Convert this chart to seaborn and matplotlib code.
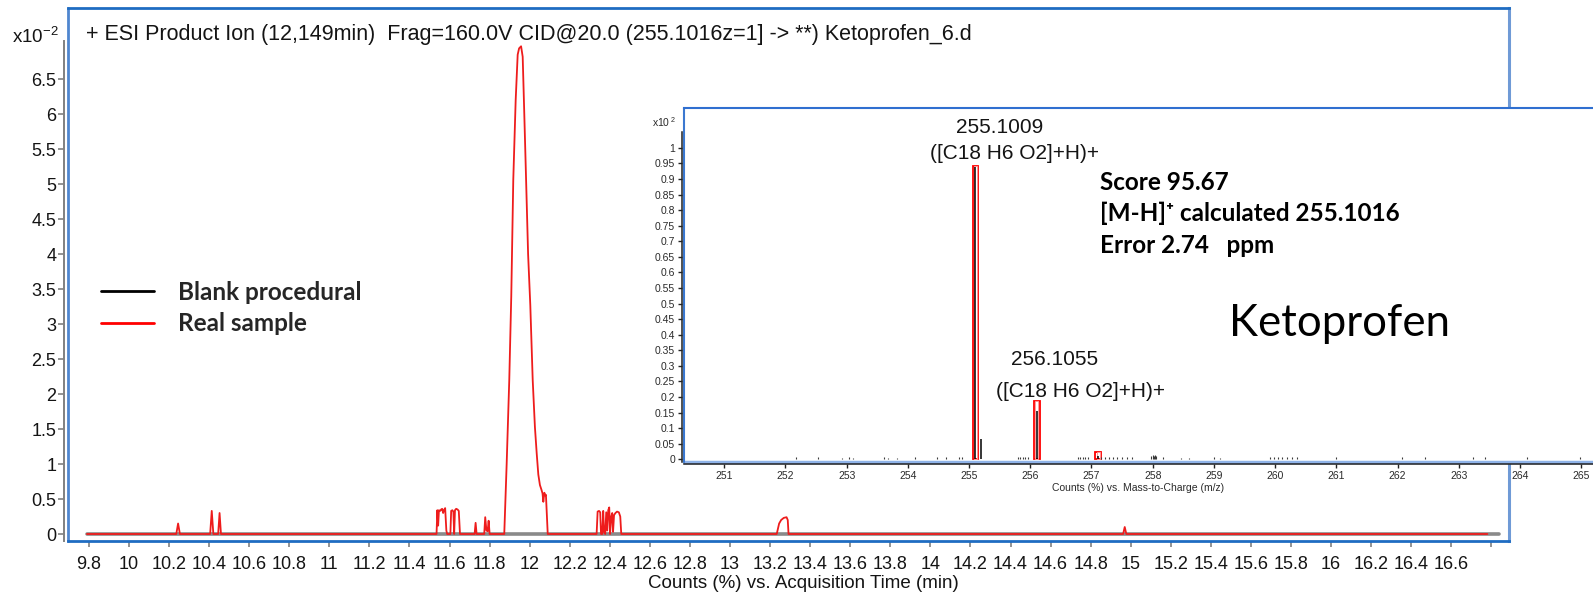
import matplotlib
matplotlib.use("Agg")
import numpy as np
import pandas as pd
import seaborn as sns
import matplotlib.pyplot as plt
from matplotlib.patches import Rectangle
from matplotlib.lines import Line2D
from matplotlib.font_manager import FontProperties

# ---------------- chromatogram: counts (x10^-2) vs. acquisition time (min) ----------------
blank_time = [9.79, 16.84]
blank_counts = [0.0, 0.0]

sample_time = [
    9.79, 10.236, 10.245, 10.254, 10.405, 10.413, 10.421, 10.445, 10.452, 10.459,
    11.535, 11.539, 11.543, 11.547, 11.553, 11.558, 11.563, 11.568, 11.572, 11.578, 11.584, 11.588,
    11.604, 11.608, 11.614, 11.619, 11.623, 11.627, 11.633, 11.640, 11.646, 11.652,
    11.725, 11.730, 11.735, 11.773, 11.778, 11.784, 11.790, 11.795, 11.800,
    11.873, 11.885, 11.898, 11.908, 11.918, 11.930, 11.940, 11.947, 11.957, 11.965, 11.973,
    11.982, 11.992, 12.003, 12.015, 12.026, 12.035, 12.043, 12.051, 12.059, 12.064, 12.068,
    12.073, 12.078, 12.081, 12.090,
    12.334, 12.339, 12.346, 12.352, 12.356, 12.362, 12.367, 12.371, 12.377, 12.382, 12.387,
    12.392, 12.397, 12.401, 12.407, 12.412, 12.416, 12.421, 12.428, 12.436, 12.445, 12.452, 12.457,
    13.233, 13.245, 13.255, 13.268, 13.282, 13.288, 13.292,
    14.962, 14.970, 14.978,
    16.78,
]
sample_counts = [
    0, 0, 0.15, 0, 0, 0.33, 0, 0, 0.30, 0,
    0, 0.34, 0.12, 0.34, 0.33, 0.35, 0.36, 0.30, 0.34, 0.37, 0.05, 0,
    0, 0.33, 0.34, 0.32, 0, 0.34, 0.36, 0.35, 0.33, 0,
    0, 0.16, 0, 0, 0.24, 0.05, 0.04, 0.19, 0,
    0, 1.0, 2.2, 3.4, 5.06, 6.2, 6.85, 6.94, 6.97, 6.82, 6.0,
    5.06, 4.0, 3.27, 2.2, 1.53, 1.15, 0.85, 0.70, 0.63, 0.58, 0.46,
    0.59, 0.55, 0.56, 0,
    0, 0.32, 0.33, 0.31, 0, 0, 0.33, 0.03, 0, 0.31, 0.05,
    0.34, 0.38, 0, 0.25, 0.30, 0.03, 0.27, 0.30, 0.32, 0.31, 0.25, 0,
    0, 0.15, 0.20, 0.23, 0.24, 0.20, 0,
    0, 0.10, 0,
    0,
]

time_ticks = np.round(np.arange(9.8, 16.81, 0.2), 1)
count_ticks = np.arange(0, 6.51, 0.5)
series_names = ["Blank procedural", "Real sample"]
title_text = "+ ESI Product Ion (12,149min)  Frag=160.0V CID@20.0 (255.1016z=1] -> **) Ketoprofen_6.d"

# ---------------- product-ion spectrum: counts (x10^2) vs. m/z ----------------
ion_mz = [255.1009, 256.1055]
ion_counts = [0.94, 0.155]
ion_labels = ["255.1009", "256.1055"]
ion_formula = "([C18 H6 O2]+H)+"
pattern_mz = [255.1009, 256.1055, 257.108]
pattern_counts = [0.943, 0.187, 0.022]
minor_mz = [255.20, 257.10]
minor_counts = [0.065, 0.012]
noise_mz = [252.17, 252.53, 252.93, 253.04, 253.10, 253.61, 253.68, 253.82, 254.12, 254.47,
            254.62, 254.84, 254.88, 255.80, 255.84, 255.88, 255.92, 255.96, 256.78, 256.82,
            256.86, 256.90, 256.94, 257.16, 257.22, 257.28, 257.35, 257.42, 257.50, 257.58,
            257.66, 257.98, 258.00, 258.02, 258.04, 258.06, 258.17, 258.46, 258.60, 259.00,
            259.10, 259.92, 259.98, 260.05, 260.12, 260.20, 260.28, 260.36, 261.00, 262.07,
            262.45, 263.24, 263.43, 264.11, 264.98]
noise_counts = [0.006, 0.006, 0.005, 0.006, 0.005, 0.006, 0.005, 0.004, 0.006, 0.006,
                0.006, 0.007, 0.007, 0.007, 0.006, 0.007, 0.006, 0.008, 0.006, 0.007,
                0.006, 0.007, 0.006, 0.007, 0.006, 0.007, 0.006, 0.007, 0.006, 0.006,
                0.006, 0.012, 0.013, 0.012, 0.013, 0.012, 0.006, 0.005, 0.005, 0.006,
                0.005, 0.006, 0.006, 0.006, 0.006, 0.006, 0.006, 0.006, 0.007, 0.006,
                0.006, 0.006, 0.006, 0.006, 0.006]
mz_ticks = np.arange(251, 266)
mz_count_ticks = np.round(np.arange(0, 1.001, 0.05), 2)
score_lines = ["Score 95.67", "[M-H]\u207a calculated 255.1016", "Error 2.74   ppm"]
compound = "Ketoprofen"

# ---------------- style ----------------
sns.set_theme(style="white")
plt.rcParams["font.family"] = ["Liberation Sans", "DejaVu Sans"]
plt.rcParams["mathtext.fontset"] = "custom"
plt.rcParams["mathtext.rm"] = "Liberation Sans"
plt.rcParams["mathtext.it"] = "Liberation Sans:italic"
plt.rcParams["mathtext.bf"] = "Liberation Sans:bold"

FRAME_BLUE = "#1f6cc2"
FRAME_BLUE_LIGHT = "#6f9ad6"
TEXT = "#141414"

W, H = 1593, 593
fig = plt.figure(figsize=(W / 100, H / 100), dpi=100)
fig.patch.set_facecolor("white")


def px_box(left, top, right, bottom):
    return [left / W, 1 - bottom / H, (right - left) / W, (bottom - top) / H]


# ---------------- chromatogram ----------------
ax = fig.add_axes(px_box(68, 8, 1509, 541))
sns.lineplot(x=blank_time, y=blank_counts, color="#8a8a8a", lw=2.6,
             estimator=None, sort=False, ax=ax)
sns.lineplot(x=sample_time, y=sample_counts, color="#ee1c1c", lw=1.3,
             estimator=None, sort=False, ax=ax)
ax.set_xlim(9.6955, 16.888)
ax.set_ylim(-0.1, 7.517)

ax.set_xticks(time_ticks)
ax.set_xticklabels([f"{t:g}" if t < 16.7 else "" for t in time_ticks])
ax.set_yticks(count_ticks)
ax.set_yticklabels([f"{v:g}" for v in count_ticks])
ax.tick_params(axis="x", bottom=True, direction="out", length=4.5, width=1.2,
               color="#808080", pad=6, labelsize=13, labelcolor=TEXT)
ax.tick_params(axis="y", left=True, direction="out", length=4.5, width=1.2,
               color="#808080", pad=1, labelsize=13, labelcolor=TEXT)

for side in ["top", "bottom"]:
    ax.spines[side].set_color(FRAME_BLUE)
    ax.spines[side].set_linewidth(2)
ax.spines["right"].set_color(FRAME_BLUE_LIGHT)
ax.spines["right"].set_linewidth(2.2)
ax.spines["left"].set_color("#808080")
ax.spines["left"].set_linewidth(1.4)
ax.spines["left"].set_position(("outward", 3))
ax.spines["left"].set_bounds(-0.1, 7.05)
ax.plot([0, 0], [0, 1], transform=ax.transAxes, color="#4f86cf", lw=2, clip_on=False)

ax.set_xlabel("Counts (%) vs. Acquisition Time (min)", fontsize=13.5, color=TEXT)
ax.xaxis.set_label_coords((803 - 68) / (1509 - 68), (541 - 583.5) / (541 - 8))
ax.xaxis.label.set_va("center")
ax.set_ylabel("")

legend_font = FontProperties(family=["Lato", "DejaVu Sans"], weight="bold", size=17.5)
handles = [Line2D([], [], color="black", lw=2), Line2D([], [], color="red", lw=2)]
ax.legend(handles, series_names, loc="upper left",
          bbox_to_anchor=(101 / W, 1 - 281 / H), bbox_transform=fig.transFigure,
          frameon=False, borderpad=0, borderaxespad=0, handlelength=2.2,
          handletextpad=0.95, labelspacing=0.34, prop=legend_font)

fig.text(86 / W, 1 - 34.5 / H, title_text, fontsize=15.5, color=TEXT, va="center", ha="left")
fig.text(12 / W, 1 - 37 / H, r"x10$^{-2}$", fontsize=13.5, color=TEXT, va="center", ha="left")

# ---------------- spectrum inset ----------------
ax2 = fig.add_axes(px_box(684, 108, 1593, 462))
ax2.set_zorder(5)
ax2.set_facecolor("white")
ax2.set_xlim(250.342, 265.194)
ax2.set_ylim(-0.0087, 1.128)

ax2.vlines(noise_mz, 0, noise_counts, color="#3a3a3a", lw=0.8)
for mz, h in zip(pattern_mz, pattern_counts):
    ax2.add_patch(Rectangle((mz - 0.045, 0), 0.09, h, fill=False,
                            edgecolor="red", lw=1.3))
    ax2.add_patch(Rectangle((mz - 0.025, 0), 0.05, h, fill=False,
                            edgecolor="#ff9a9a", lw=0.7))
ax2.vlines(ion_mz, 0, ion_counts, color="black", lw=1.1)
ax2.vlines(minor_mz, 0, minor_counts, color="black", lw=1.1)

px_pt = 0.72
label_offsets = [(24, 38), (18, 42)]
formula_offsets = [(39, 12), (44, 10)]
for mz, h, lab, (dx, dy), (fx_, fy_) in zip(pattern_mz, pattern_counts, ion_labels,
                                               label_offsets, formula_offsets):
    ax2.annotate(lab, xy=(mz, h), xytext=(dx * px_pt, dy * px_pt), textcoords="offset points",
                 ha="center", va="center", fontsize=15, color=TEXT)
    ax2.annotate(ion_formula, xy=(mz, h), xytext=(fx_ * px_pt, fy_ * px_pt),
                 textcoords="offset points", ha="center", va="center", fontsize=15, color=TEXT)

score_font = FontProperties(family=["Lato", "DejaVu Sans"], weight="bold", size=17.5)
for i, line in enumerate(score_lines):
    ypx = 182 + i * 31.6
    ax2.text((1100 - 684) / (1593 - 684), (462 - ypx) / (462 - 108), line,
             transform=ax2.transAxes, fontproperties=score_font, color="black",
             ha="left", va="center")
ax2.text((1229 - 684) / (1593 - 684), (462 - 324) / (462 - 108), compound,
         transform=ax2.transAxes, fontproperties=FontProperties(family=["Lato", "DejaVu Sans"], size=31.5),
         color="black", ha="left", va="center")

ax2.set_xticks(mz_ticks)
ax2.set_xticklabels([str(m) for m in mz_ticks])
ax2.set_yticks(mz_count_ticks)
ax2.set_yticklabels([f"{v:g}" for v in mz_count_ticks])
ax2.tick_params(axis="both", bottom=True, left=True, direction="out", length=3, width=1,
                color="#222222", pad=2, labelsize=7.5, labelcolor="#2a2a2a")
ax2.spines["right"].set_visible(False)
ax2.spines["top"].set_color("#2f6fd0")
ax2.spines["top"].set_linewidth(1.5)
ax2.spines["left"].set_color("#222222")
ax2.spines["left"].set_linewidth(1.1)
ax2.spines["left"].set_position(("outward", 1.5))
ax2.spines["left"].set_bounds(-0.0087, 1.05)
ax2.spines["bottom"].set_color("#222222")
ax2.spines["bottom"].set_linewidth(1.1)
ax2.spines["bottom"].set_position(("outward", 1.2))
ax2.plot([0, 1], [0, 0], transform=ax2.transAxes, color="#8fb3e8", lw=2.5, clip_on=False)
ax2.plot([0, 0], [0, 1], transform=ax2.transAxes, color="#3b78d0", lw=1.5, clip_on=False)
ax2.set_xlabel("Counts (%) vs. Mass-to-Charge (m/z)", fontsize=7.5, color="#2a2a2a", labelpad=2)
ax2.set_ylabel("")
fig.text(652 / W, 1 - 122 / H, r"x10$\,^{2}$", fontsize=7.5, color="#2a2a2a", va="center", ha="left")

fig.savefig("out.png", dpi=100, facecolor="white")
